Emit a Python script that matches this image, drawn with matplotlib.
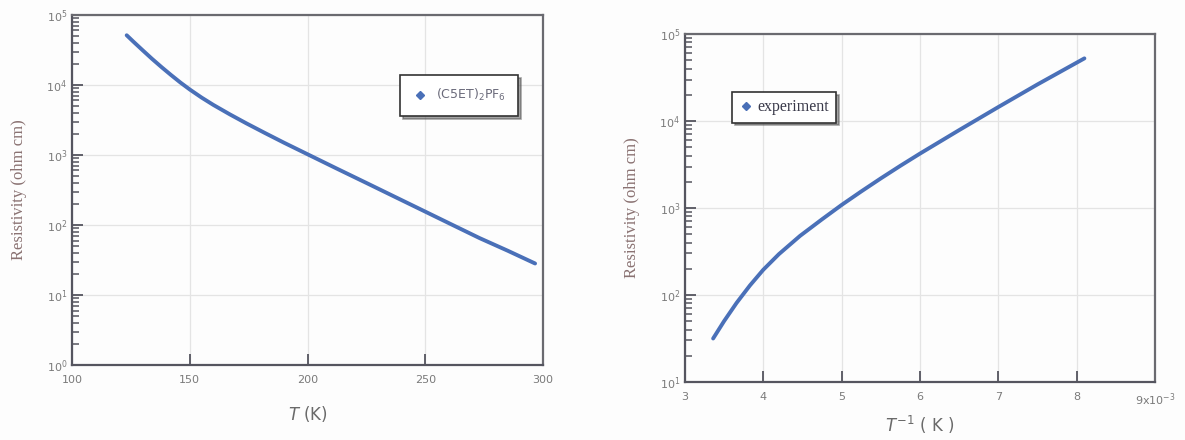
import matplotlib
matplotlib.use("Agg")
import matplotlib.pyplot as plt
from matplotlib.lines import Line2D

# Left panel: resistivity vs T (log10 of ohm cm)
temp_K = [123.2, 126, 130, 134, 138, 142, 146, 150, 155, 160, 167, 174, 182, 190, 200,
          212, 225, 237, 250, 262, 273, 285, 296.6]
log_rho_T = [4.71, 4.62, 4.495, 4.372, 4.255, 4.143, 4.035, 3.935, 3.82, 3.715, 3.58, 3.452,
             3.312, 3.175, 3.01, 2.812, 2.60, 2.403, 2.19, 1.993, 1.813, 1.632, 1.45]

# Right panel: resistivity vs 1/T (x 10^-3 K^-1)
inv_T = [3.36, 3.5, 3.66, 3.83, 4.0, 4.2, 4.47, 4.75, 5.0, 5.25, 5.5, 5.75, 6.0, 6.25, 6.5,
         7.0, 7.5, 8.0, 8.1]
log_rho_invT = [1.50, 1.70, 1.91, 2.11, 2.29, 2.47, 2.68, 2.87, 3.035, 3.19, 3.34, 3.485,
                3.625, 3.76, 3.895, 4.16, 4.42, 4.67, 4.72]

left_xticks = [100, 150, 200, 250, 300]
right_xticks = [3, 4, 5, 6, 7, 8, 9]
right_xticklabels = ['3', '4', '5', '6', '7', '8', r'9x10$^{-3}$']

line_color = '#4a70b8'
spine_color = '#55555f'
tick_color = '#7a7a7a'
label_color = '#8a7272'

fig = plt.figure(figsize=(11.85, 4.4), dpi=100)
fig.patch.set_facecolor('#fdfdfd')

axL = fig.add_axes([0.0608, 0.1705, 0.3975, 0.7955])
axR = fig.add_axes([0.578, 0.1318, 0.3966, 0.7909])

def style(ax):
    ax.set_facecolor('#fdfdfd')
    for s in ax.spines.values():
        s.set_color(spine_color)
        s.set_linewidth(1.6)
    ax.spines['top'].set_color('#6a6a70')
    ax.spines['right'].set_color('#6a6a70')
    ax.tick_params(axis='both', which='major', direction='in', length=8, width=1.3,
                   color=spine_color, labelsize=8, labelcolor=tick_color, top=False, right=False)
    ax.tick_params(axis='x', which='major', pad=7)
    ax.tick_params(axis='y', which='minor', direction='in', length=5, width=1.1,
                   color=spine_color, right=False)
    ax.tick_params(axis='x', which='minor', bottom=False, top=False)
    ax.grid(True, which='major', color='#e4e4e4', linewidth=0.9)
    ax.set_axisbelow(True)

# Left
axL.plot(temp_K, [10**v for v in log_rho_T], color=line_color, lw=2.8, solid_capstyle='round')
axL.set_yscale('log')
axL.set_xlim(100, 300)
axL.set_ylim(1, 1e5)
axL.set_xticks(left_xticks)
style(axL)
axL.set_ylabel('Resistivity (ohm cm)', family='Liberation Serif', fontsize=12, color=label_color, labelpad=14)
axL.set_xlabel(r'$T$ (K)', fontsize=12, color='#6a6a6a', labelpad=14)
hL = Line2D([], [], marker='D', color=line_color, ls='none', markersize=4)
legL = axL.legend([hL], [r'(C5ET)$_2$PF$_6$'], loc='upper left', bbox_to_anchor=(0.696, 0.829),
                  borderaxespad=0, fancybox=False, shadow=True, edgecolor='#333333', framealpha=1,
                  prop={'size': 9}, handlelength=1.2, borderpad=1.0, handletextpad=0.7)
for t in legL.get_texts():
    t.set_color('#6a6a7a')
legL.get_frame().set_linewidth(1.2)

# Right
axR.plot(inv_T, [10**v for v in log_rho_invT], color=line_color, lw=2.8, solid_capstyle='round')
axR.set_yscale('log')
axR.set_xlim(3, 9)
axR.set_ylim(10, 1e5)
axR.set_xticks(right_xticks)
axR.set_xticklabels(right_xticklabels)
style(axR)
axR.set_ylabel('Resistivity (ohm cm)', family='Liberation Serif', fontsize=12, color=label_color, labelpad=14)
axR.set_xlabel(r'$T^{-1}$ ( K )', fontsize=12, color='#6a6a6a', labelpad=4)
hR = Line2D([], [], marker='D', color=line_color, ls='none', markersize=4.5)
legR = axR.legend([hR], ['experiment'], loc='upper left', bbox_to_anchor=(0.101, 0.833),
                  borderaxespad=0, fancybox=False, shadow=True, edgecolor='#333333', framealpha=1,
                  prop={'family': 'Liberation Serif', 'size': 11.5}, handlelength=0.8,
                  borderpad=0.45, handletextpad=0.3)
for t in legR.get_texts():
    t.set_color('#3a3a4a')
legR.get_frame().set_linewidth(1.2)

fig.savefig('out.png', dpi=100, facecolor=fig.get_facecolor())
